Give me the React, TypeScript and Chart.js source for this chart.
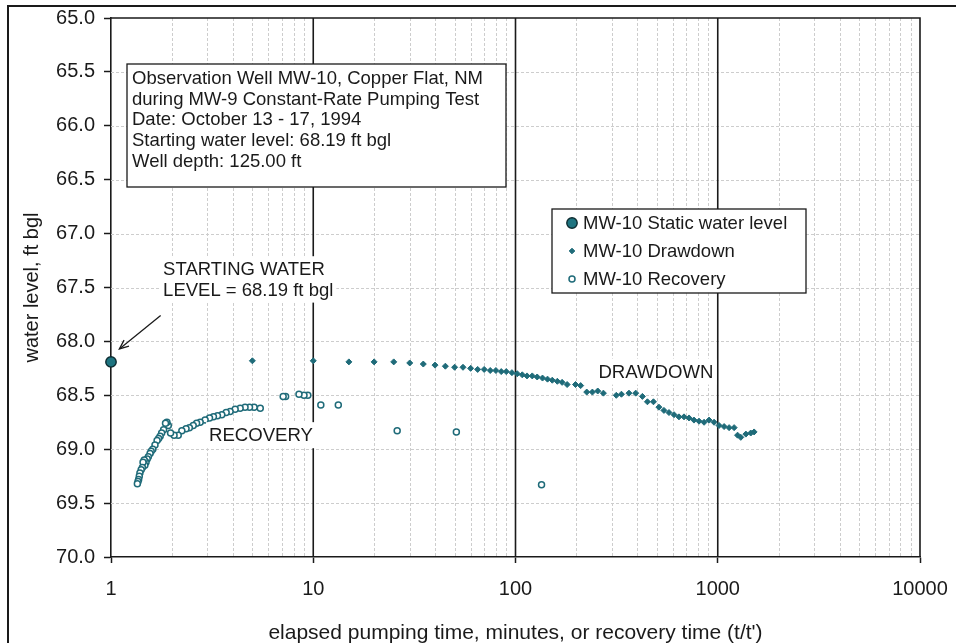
import React, { useEffect, useRef } from "react";
import { Chart, registerables } from "chart.js";
Chart.register(...registerables);

const staticX = [1];
const staticY = [68.19];

const drawdownX = [5, 10, 15, 20, 25, 30, 35, 40, 45, 50, 55, 60, 65, 70, 75, 80, 85, 90, 96, 102, 108, 114, 121, 128, 136, 144, 152, 161, 170, 180, 198, 210, 225, 240, 255, 272, 315, 334, 364, 393, 424, 449, 481, 512, 542, 574, 608, 643, 681, 721, 763, 808, 856, 906, 959, 1015, 1075, 1138, 1205, 1253, 1300, 1377, 1456, 1513];
const drawdownY = [68.18, 68.18, 68.19, 68.19, 68.19, 68.2, 68.21, 68.22, 68.23, 68.24, 68.24, 68.25, 68.26, 68.26, 68.27, 68.27, 68.28, 68.28, 68.29, 68.3, 68.31, 68.32, 68.32, 68.33, 68.34, 68.35, 68.36, 68.37, 68.38, 68.4, 68.4, 68.41, 68.47, 68.47, 68.46, 68.48, 68.5, 68.49, 68.48, 68.48, 68.51, 68.56, 68.56, 68.61, 68.64, 68.66, 68.68, 68.7, 68.7, 68.71, 68.73, 68.74, 68.75, 68.73, 68.75, 68.78, 68.79, 68.8, 68.8, 68.87, 68.89, 68.86, 68.85, 68.84];

const recoveryX = [134.5, 51, 26, 13.3, 10.9, 9.4, 9.0, 8.5, 7.3, 7.1, 5.47, 5.1, 4.84, 4.6, 4.35, 4.11, 3.88, 3.71, 3.53, 3.36, 3.21, 3.07, 2.92, 2.76, 2.65, 2.55, 2.44, 2.35, 2.24, 2.15, 2.05, 1.97, 1.92, 1.89, 1.86, 1.82, 1.78, 1.75, 1.72, 1.69, 1.65, 1.61, 1.58, 1.56, 1.53, 1.51, 1.49, 1.47, 1.46, 1.44, 1.43, 1.41, 1.39, 1.38, 1.37, 1.36, 1.35];
const recoveryY = [69.33, 68.84, 68.83, 68.59, 68.59, 68.5, 68.5, 68.49, 68.51, 68.51, 68.62, 68.61, 68.61, 68.61, 68.62, 68.63, 68.65, 68.66, 68.68, 68.69, 68.7, 68.71, 68.73, 68.75, 68.76, 68.78, 68.8, 68.81, 68.83, 68.87, 68.87, 68.85, 68.78, 68.75, 68.76, 68.82, 68.85, 68.88, 68.9, 68.92, 68.96, 69.0, 69.02, 69.04, 69.07, 69.09, 69.12, 69.15, 69.1, 69.12, 69.17, 69.19, 69.22, 69.25, 69.28, 69.3, 69.32];

const xTickValues = [1, 10, 100, 1000, 10000];
const yTickValues = [65.0, 65.5, 66.0, 66.5, 67.0, 67.5, 68.0, 68.5, 69.0, 69.5, 70.0];
const minorMultipliers = [2, 3, 4, 5, 6, 7, 8, 9];

const seriesLabels = ["MW-10 Static water level", "MW-10 Drawdown", "MW-10 Recovery"];
const infoLines = [
  "Observation Well MW-10, Copper Flat, NM",
  "during MW-9 Constant-Rate Pumping Test",
  "Date: October 13 - 17, 1994",
  "Starting water level: 68.19 ft bgl",
  "Well depth: 125.00 ft",
];
const startLabel = ["STARTING WATER", "LEVEL = 68.19 ft bgl"];
const xTitle = "elapsed pumping time, minutes, or recovery time (t/t')";
const yTitle = "water level, ft bgl";

const FONT = '"Liberation Sans", Arial, Helvetica, sans-serif';
const TEAL = "#1f6b79";
const INK = "#1a1a1a";

const toPoints = (xs: number[], ys: number[]) => xs.map((x, i) => ({ x, y: ys[i] }));

export default function App() {
  const ref = useRef<HTMLCanvasElement>(null);

  useEffect(() => {
    const canvas = ref.current;
    if (!canvas) return;

    const decor = {
      id: "decor",
      beforeDatasetsDraw(chart: any) {
        const { ctx, chartArea: a, scales } = chart;
        const x = scales.x;
        const y = scales.y;
        ctx.save();
        ctx.lineWidth = 1;
        ctx.strokeStyle = "#cdcdcd";
        ctx.setLineDash([3, 2]);
        yTickValues.forEach((v) => {
          if (v === 65 || v === 70) return;
          const py = Math.round(y.getPixelForValue(v)) + 0.5;
          ctx.beginPath();
          ctx.moveTo(a.left, py);
          ctx.lineTo(a.right, py);
          ctx.stroke();
        });
        xTickValues.slice(0, -1).forEach((d) => {
          minorMultipliers.forEach((m) => {
            const px = Math.round(x.getPixelForValue(d * m)) + 0.5;
            ctx.beginPath();
            ctx.moveTo(px, a.top);
            ctx.lineTo(px, a.bottom);
            ctx.stroke();
          });
        });
        ctx.setLineDash([]);
        ctx.strokeStyle = INK;
        ctx.lineWidth = 1.6;
        xTickValues.slice(1, -1).forEach((v) => {
          const px = x.getPixelForValue(v);
          ctx.beginPath();
          ctx.moveTo(px, a.top);
          ctx.lineTo(px, a.bottom);
          ctx.stroke();
        });
        ctx.beginPath();
        ctx.moveTo(a.left, a.top);
        ctx.lineTo(a.right, a.top);
        ctx.lineTo(a.right, a.bottom);
        ctx.stroke();
        ctx.restore();
      },
      afterDraw(chart: any) {
        const { ctx, chartArea: a, scales } = chart;
        const x = scales.x;
        const y = scales.y;
        ctx.save();
        ctx.strokeStyle = INK;
        ctx.lineWidth = 2;
        ctx.beginPath();
        ctx.moveTo(8, chart.height);
        ctx.lineTo(8, 6);
        ctx.lineTo(chart.width, 6);
        ctx.stroke();

        ctx.fillStyle = INK;
        ctx.font = `21px ${FONT}`;
        ctx.textAlign = "center";
        ctx.textBaseline = "middle";
        ctx.fillText(xTitle, (a.left + a.right) / 2, 633);
        ctx.save();
        ctx.translate(32, (a.top + a.bottom) / 2);
        ctx.rotate(-Math.PI / 2);
        ctx.font = `20px ${FONT}`;
        ctx.fillText(yTitle, 0, 0);
        ctx.restore();

        ctx.fillStyle = "#fff";
        ctx.fillRect(127, 64, 379, 123);
        ctx.strokeStyle = INK;
        ctx.lineWidth = 1.3;
        ctx.strokeRect(127, 64, 379, 123);
        ctx.fillStyle = INK;
        ctx.font = `18.5px ${FONT}`;
        ctx.textAlign = "left";
        ctx.textBaseline = "alphabetic";
        infoLines.forEach((t, i) => ctx.fillText(t, 132, 84 + i * 20.7));

        const lx = 552, ly = 209, lw = 254, lh = 84;
        ctx.fillStyle = "#fff";
        ctx.fillRect(lx, ly, lw, lh);
        ctx.strokeRect(lx, ly, lw, lh);
        ctx.textBaseline = "middle";
        const rows = [223, 251, 279];
        chart.data.datasets.forEach((ds: any, i: number) => {
          const cy = rows[i];
          const cx = 572;
          ctx.save();
          ctx.fillStyle = ds.backgroundColor;
          ctx.strokeStyle = ds.borderColor;
          ctx.lineWidth = ds.borderWidth;
          ctx.beginPath();
          if (ds.pointStyle === "rectRot") {
            const r = 2.8;
            ctx.moveTo(cx, cy - r);
            ctx.lineTo(cx + r, cy);
            ctx.lineTo(cx, cy + r);
            ctx.lineTo(cx - r, cy);
            ctx.closePath();
          } else {
            ctx.arc(cx, cy, ds.pointRadius, 0, Math.PI * 2);
          }
          ctx.fill();
          ctx.stroke();
          ctx.restore();
          ctx.fillStyle = INK;
          ctx.fillText(ds.label, 583, cy + 1);
        });

        const label = (text: string, xv: number, yv: number, size: number) => {
          ctx.font = `${size}px ${FONT}`;
          const px = x.getPixelForValue(xv);
          const py = y.getPixelForValue(yv);
          const w = ctx.measureText(text).width;
          ctx.fillStyle = "#fff";
          ctx.fillRect(px - 3, py - size * 0.7, w + 6, size * 1.4);
          ctx.fillStyle = INK;
          ctx.textAlign = "left";
          ctx.textBaseline = "middle";
          ctx.fillText(text, px, py + 1);
        };
        label("RECOVERY", 3.05, 68.87, 18.6);
        label("DRAWDOWN", 257, 68.28, 18.6);
        label(startLabel[0], 1.81, 67.33, 18.5);
        label(startLabel[1], 1.81, 67.52, 18.5);

        const x0 = x.getPixelForValue(1.76), y0 = y.getPixelForValue(67.76);
        const x1 = x.getPixelForValue(1.1), y1 = y.getPixelForValue(68.07);
        ctx.strokeStyle = INK;
        ctx.lineWidth = 1.3;
        ctx.beginPath();
        ctx.moveTo(x0, y0);
        ctx.lineTo(x1, y1);
        ctx.stroke();
        const ang = Math.atan2(y1 - y0, x1 - x0);
        const hl = 10, hw = 0.4;
        ctx.beginPath();
        ctx.moveTo(x1 - hl * Math.cos(ang - hw), y1 - hl * Math.sin(ang - hw));
        ctx.lineTo(x1, y1);
        ctx.lineTo(x1 - hl * Math.cos(ang + hw), y1 - hl * Math.sin(ang + hw));
        ctx.stroke();
        ctx.restore();
      },
    };

    const chart = new Chart(canvas, {
      type: "scatter",
      data: {
        datasets: [
          {
            label: seriesLabels[0],
            data: toPoints(staticX, staticY),
            pointStyle: "circle",
            pointRadius: 5.2,
            backgroundColor: "#1e7480",
            borderColor: "#0c2b30",
            borderWidth: 1.4,
            clip: false,
          } as any,
          {
            label: seriesLabels[1],
            data: toPoints(drawdownX, drawdownY),
            pointStyle: "rectRot",
            pointRadius: 3,
            backgroundColor: TEAL,
            borderColor: TEAL,
            borderWidth: 1,
            clip: false,
          },
          {
            label: seriesLabels[2],
            data: toPoints(recoveryX, recoveryY),
            pointStyle: "circle",
            pointRadius: 3,
            backgroundColor: "#fff",
            borderColor: TEAL,
            borderWidth: 1.5,
            clip: false,
          },
        ],
      },
      options: {
        responsive: false,
        animation: false,
        layout: { padding: { top: 18, right: 36, bottom: 0, left: 0 } },
        plugins: { legend: { display: false }, tooltip: { enabled: false } },
        scales: {
          x: {
            type: "logarithmic",
            min: 1,
            max: 10000,
            afterBuildTicks: (scale: any) => {
              scale.ticks = xTickValues.map((v) => ({ value: v, major: true }));
            },
            afterFit: (scale: any) => {
              scale.height = 86;
              scale.paddingLeft = 0;
              scale.paddingRight = 0;
            },
            ticks: {
              autoSkip: false,
              maxRotation: 0,
              padding: 14,
              color: INK,
              font: { family: FONT, size: 20 },
              callback: (v: any) => String(v),
            },
            grid: { drawOnChartArea: false, drawTicks: true, tickLength: 6, tickColor: INK, tickWidth: 1.5 },
            border: { display: true, color: INK, width: 1.6 },
          },
          y: {
            type: "linear",
            min: 65,
            max: 70,
            reverse: true,
            afterBuildTicks: (scale: any) => {
              scale.ticks = yTickValues.map((v) => ({ value: v }));
            },
            afterFit: (scale: any) => {
              scale.width = 111;
              scale.paddingTop = 0;
              scale.paddingBottom = 0;
            },
            ticks: {
              padding: 9,
              color: INK,
              font: { family: FONT, size: 20 },
              callback: (v: any) => Number(v).toFixed(1),
            },
            grid: { drawOnChartArea: false, drawTicks: true, tickLength: 7, tickColor: INK, tickWidth: 1.5 },
            border: { display: true, color: INK, width: 1.6 },
          },
        },
      },
      plugins: [decor],
    });

    return () => chart.destroy();
  }, []);

  return (
    <div style={{ position: "fixed", left: 0, top: 0, width: 956, height: 643, background: "#fff" }}>
      <canvas ref={ref} width={956} height={643} style={{ width: 956, height: 643, display: "block" }} />
    </div>
  );
}
